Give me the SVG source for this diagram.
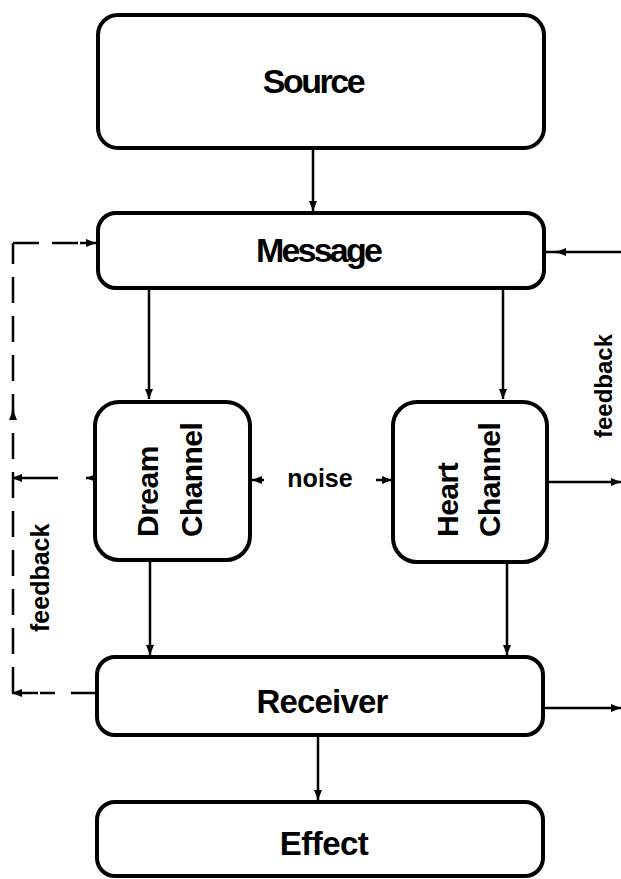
<svg xmlns="http://www.w3.org/2000/svg" width="621" height="879" viewBox="0 0 621 879">
<defs>
<marker id="ah" viewBox="0 0 10 8" refX="10" refY="4" markerWidth="10" markerHeight="8" markerUnits="userSpaceOnUse" orient="auto">
<path d="M0,0 L10,4 L0,8 Z" fill="#000"/>
</marker>
</defs>
<style>
.box{fill:#fff;stroke:#000;stroke-width:4}
.lbl{font-family:"Liberation Sans",Arial,sans-serif;font-weight:bold;fill:#000}
.c{fill:none;stroke:#000;stroke-width:2.5}
.d{fill:none;stroke:#000;stroke-width:2.5;stroke-dasharray:26 13}
</style>
<rect width="621" height="879" fill="#fff"/>
<g id="connectors">
<line class="c" x1="313" y1="149" x2="313" y2="211" marker-end="url(#ah)"/>
<line class="c" x1="149" y1="290" x2="149" y2="399" marker-end="url(#ah)"/>
<line class="c" x1="503" y1="290" x2="503" y2="399" marker-end="url(#ah)"/>
<line class="c" x1="150" y1="562" x2="150" y2="655" marker-end="url(#ah)"/>
<line class="c" x1="507" y1="564" x2="507" y2="655" marker-end="url(#ah)"/>
<line class="c" x1="318" y1="736" x2="318" y2="800" marker-end="url(#ah)"/>
<line class="c" x1="264" y1="480" x2="252" y2="480" marker-end="url(#ah)"/>
<line class="c" x1="376" y1="480" x2="392" y2="480" marker-end="url(#ah)"/>
<path class="d" d="M13,693 L13,243"/>
<line class="c" x1="13" y1="420" x2="13" y2="410" marker-end="url(#ah)"/>
<line class="d" x1="13" y1="243" x2="86" y2="243"/>
<line class="c" x1="80" y1="243" x2="96" y2="243" marker-end="url(#ah)"/>
<line class="d" x1="95" y1="693" x2="40" y2="693" style="stroke-dasharray:24 16"/>
<line class="c" x1="38" y1="693" x2="12" y2="693" marker-end="url(#ah)"/>
<line class="c" x1="58" y1="478" x2="12" y2="478" marker-end="url(#ah)"/>
<line class="c" x1="95" y1="478" x2="86" y2="478" marker-end="url(#ah)"/>
<line class="c" x1="621" y1="252" x2="545" y2="252"/>
<line class="c" x1="566" y1="252" x2="556" y2="252" marker-end="url(#ah)"/>
<line class="c" x1="549" y1="482" x2="621" y2="482" marker-end="url(#ah)"/>
<line class="c" x1="545" y1="708" x2="621" y2="708" marker-end="url(#ah)"/>
</g>
<g id="source">
<rect class="box" x="98" y="15" width="446" height="133" rx="20"/>
<text class="lbl" x="313" y="93" font-size="34" letter-spacing="-2.5" text-anchor="middle">Source</text>
</g>
<g id="message">
<rect class="box" x="98" y="213" width="446" height="75" rx="18"/>
<text class="lbl" x="318" y="262" font-size="34" letter-spacing="-2.8" text-anchor="middle">Message</text>
</g>
<g id="dream">
<rect class="box" x="95" y="402" width="155" height="158" rx="24"/>
<text class="lbl" transform="translate(158,537) rotate(-90)" font-size="30" letter-spacing="-0.5">Dream</text>
<text class="lbl" transform="translate(202,537) rotate(-90)" font-size="30" letter-spacing="-0.6">Channel</text>
</g>
<g id="heart">
<rect class="box" x="393" y="402" width="154" height="160" rx="24"/>
<text class="lbl" transform="translate(458,537) rotate(-90)" font-size="30" letter-spacing="-0.5">Heart</text>
<text class="lbl" transform="translate(500,537) rotate(-90)" font-size="30" letter-spacing="-0.6">Channel</text>
</g>
<g id="receiver">
<rect class="box" x="97" y="657" width="446" height="78" rx="18"/>
<text class="lbl" x="322" y="713" font-size="33" letter-spacing="-0.8" text-anchor="middle">Receiver</text>
</g>
<g id="effect">
<rect class="box" x="97" y="802" width="446" height="74" rx="18"/>
<text class="lbl" x="324" y="855" font-size="33" letter-spacing="-0.5" text-anchor="middle">Effect</text>
</g>
<g id="labels">
<text class="lbl" x="320" y="487" font-size="25" text-anchor="middle">noise</text>
<text class="lbl" transform="translate(49,632) rotate(-90)" font-size="25">feedback</text>
<text class="lbl" transform="translate(612,438) rotate(-90)" font-size="24">feedback</text>
</g>
</svg>
